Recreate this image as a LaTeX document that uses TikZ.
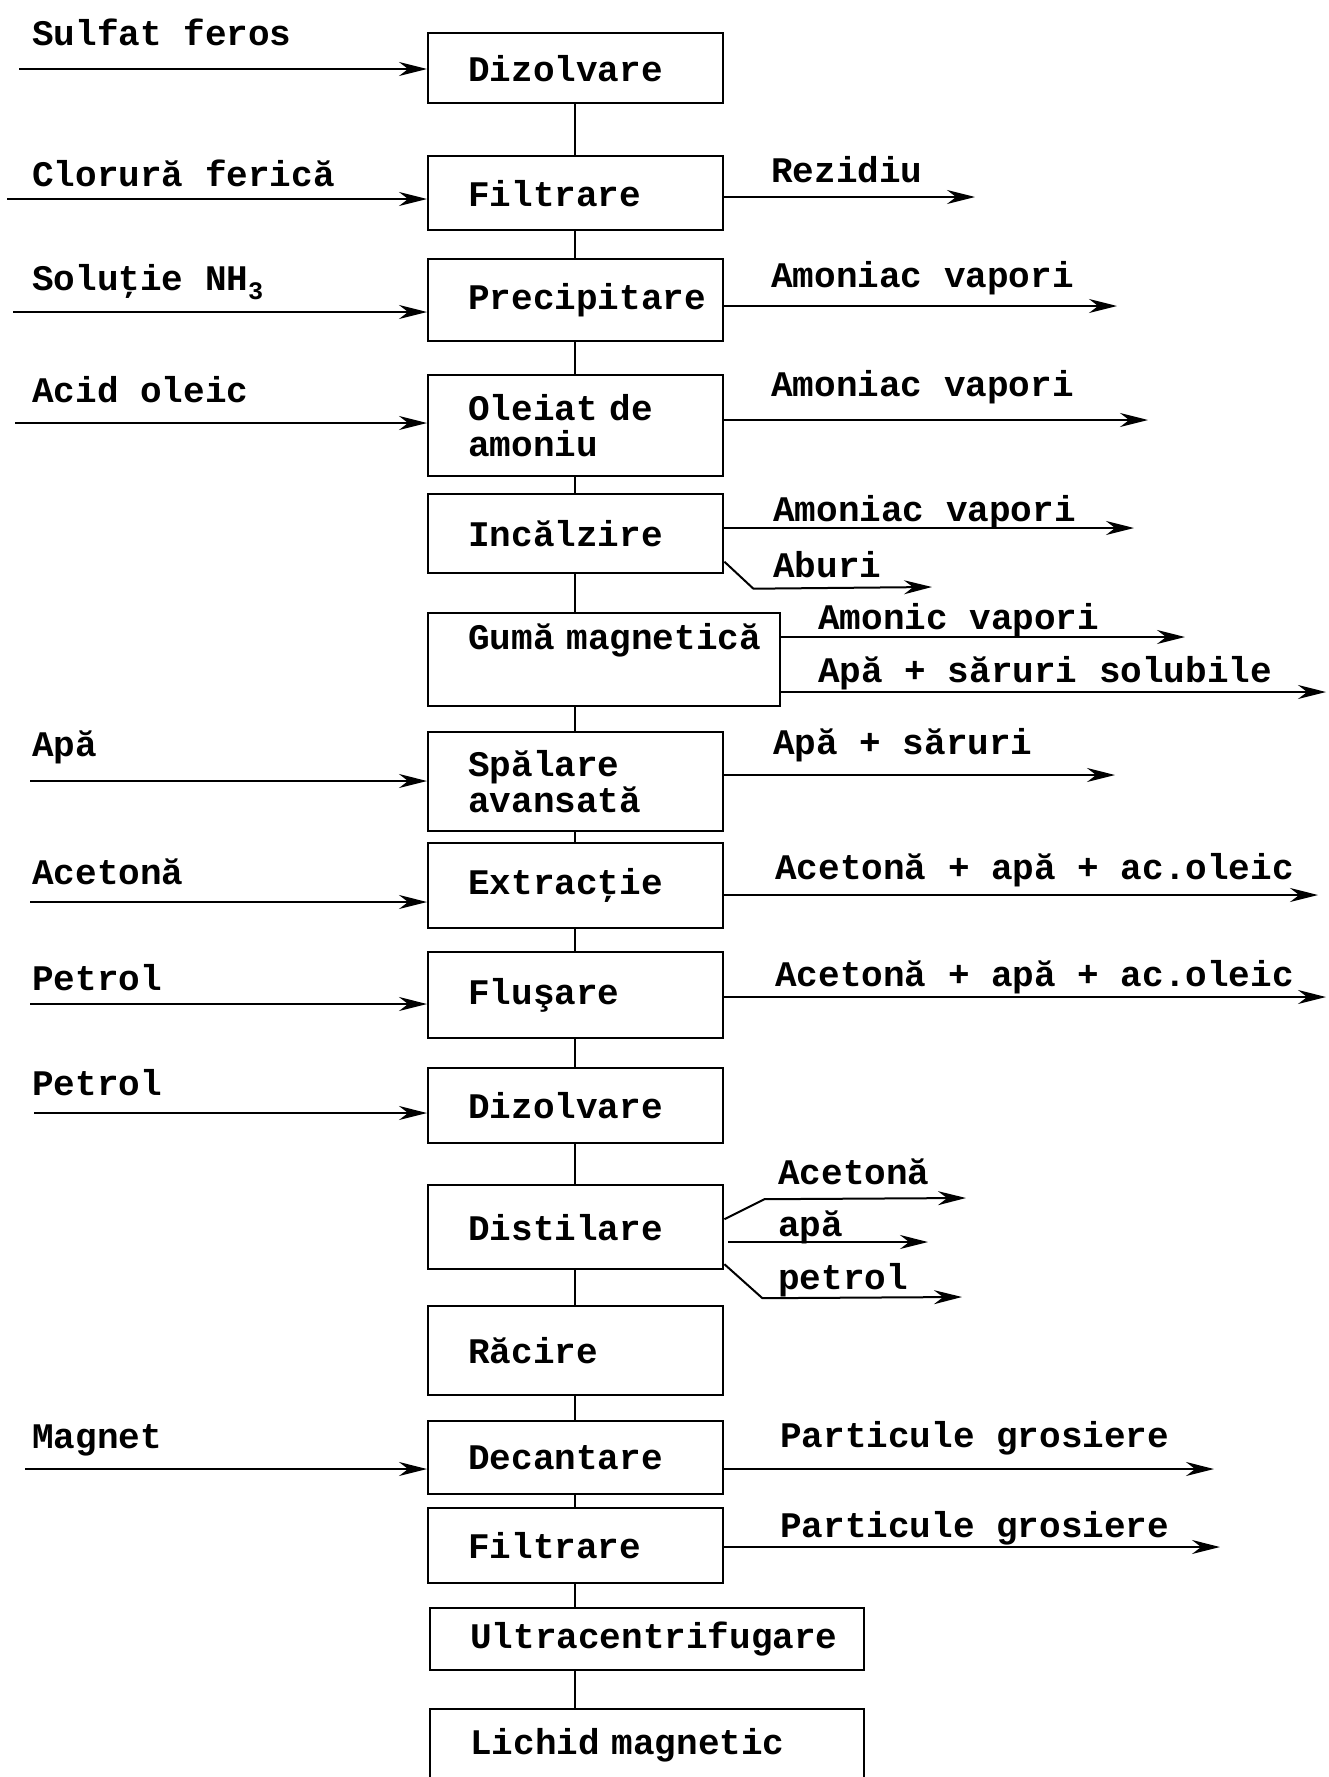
\documentclass[tikz,border=0pt]{standalone}
\usepackage{fontspec}
\setmainfont{Liberation Mono}
\usetikzlibrary{arrows.meta}

\begin{document}
\begin{tikzpicture}[x=1pt,y=-1pt,
  font=\fontsize{36}{36}\selectfont\bfseries,
  procbox/.style={draw,line width=2.4pt,anchor=north west,inner xsep=40pt,inner ysep=0pt,align=left},
  flow/.style={line width=2pt,-{Stealth[length=28pt,width=14pt]}},
  link/.style={line width=1.8pt},
  lab/.style={inner sep=0pt,anchor=west}]
\useasboundingbox (0,0) rectangle (1329,1777);
% process column
\node[procbox,text width=215pt,minimum height=70pt]  (dz1) at (427,32)   {Dizolvare};
\node[procbox,text width=215pt,minimum height=74pt]  (fl1) at (427,155)  {Filtrare};
\node[procbox,text width=215pt,minimum height=82pt]  (pr)  at (427,258)  {Precipitare};
\node[procbox,text width=215pt,minimum height=101pt] (ol)  at (427,374)  {Oleiat de\\amoniu};
\node[procbox,text width=215pt,minimum height=79pt]  (inc) at (427,493)  {Incălzire};
\node[procbox,text width=272pt,minimum height=93pt]  (gm)  at (427,612)  {\mbox{Gumă magnetică}\\[10pt]\mbox{}};
\node[procbox,text width=215pt,minimum height=99pt]  (sp)  at (427,731)  {Spălare\\avansată};
\node[procbox,text width=215pt,minimum height=85pt]  (ex)  at (427,842)  {Extracţie};
\node[procbox,text width=215pt,minimum height=86pt]  (fs)  at (427,951)  {Fluşare};
\node[procbox,text width=215pt,minimum height=75pt]  (dz2) at (427,1067) {Dizolvare};
\node[procbox,text width=215pt,minimum height=84pt]  (ds)  at (427,1184) {Distilare};
\node[procbox,text width=215pt,minimum height=89pt]  (rc)  at (427,1305) {Răcire};
\node[procbox,text width=215pt,minimum height=73pt]  (dc)  at (427,1420) {Decantare};
\node[procbox,text width=215pt,minimum height=75pt]  (fl2) at (427,1507) {Filtrare};
\node[procbox,text width=354pt,minimum height=62pt]  (uc)  at (429,1607) {Ultracentrifugare};
\node[procbox,text width=354pt,minimum height=72pt]  (lm)  at (429,1708) {Lichid magnetic};
\coordinate (axis) at (575,0);
\foreach \a/\b in {dz1/fl1,fl1/pr,pr/ol,ol/inc,inc/gm,gm/sp,sp/ex,ex/fs,fs/dz2,dz2/ds,ds/rc,rc/dc,dc/fl2,fl2/uc,uc/lm}
  \draw[link] (axis |- \a.south) -- (axis |- \b.north);
% inputs
\coordinate (isf) at (19,69);
\draw[flow] (isf) -- (isf -| dz1.west);
\node[lab] (tsf) at (32,32) {Sulfat feros};
\coordinate (icf) at (7,199);
\draw[flow] (icf) -- (icf -| fl1.west);
\node[lab] (tcf) at (32,173) {Clorură ferică};
\coordinate (inh) at (13,312);
\draw[flow] (inh) -- (inh -| pr.west);
\node[lab] (tnh) at (32,282) {Soluţie NH\textsubscript{3}};
\coordinate (iao) at (15,423);
\draw[flow] (iao) -- (iao -| ol.west);
\node[lab] (tao) at (32,390) {Acid oleic};
\coordinate (iap) at (30,781);
\draw[flow] (iap) -- (iap -| sp.west);
\node[lab] (tap) at (32,747) {Apă};
\coordinate (iac) at (30,902);
\draw[flow] (iac) -- (iac -| ex.west);
\node[lab] (tac) at (32,872) {Acetonă};
\coordinate (ip1) at (30,1004);
\draw[flow] (ip1) -- (ip1 -| fs.west);
\node[lab] (tp1) at (32,978) {Petrol};
\coordinate (ip2) at (34,1113);
\draw[flow] (ip2) -- (ip2 -| dz2.west);
\node[lab] (tp2) at (32,1083) {Petrol};
\coordinate (img) at (25,1469);
\draw[flow] (img) -- (img -| dc.west);
\node[lab] (tmg) at (32,1440) {Magnet};
% outputs
\coordinate (orz) at (975,197);
\draw[flow] (orz -| fl1.east) -- (orz);
\node[lab] (trz) at (771,170) {Rezidiu};
\coordinate (oa1) at (1117,306);
\draw[flow] (oa1 -| pr.east) -- (oa1);
\node[lab] (ta1) at (771,278) {Amoniac vapori};
\coordinate (oa2) at (1148,420);
\draw[flow] (oa2 -| ol.east) -- (oa2);
\node[lab] (ta2) at (771,387) {Amoniac vapori};
\coordinate (oa3) at (1134,528);
\draw[flow] (oa3 -| inc.east) -- (oa3);
\node[lab] (ta3) at (773,512) {Amoniac vapori};
\coordinate (oab) at (932,587);
\draw[flow] ([yshift=-28pt]inc.east) -- ++(29,27) -- (oab);
\node[lab] (tab) at (773,565) {Aburi};
\coordinate (oa4) at (1185,637);
\draw[flow] (oa4 -| gm.east) -- (oa4);
\node[lab] (ta4) at (818,620) {Amonic vapori};
\coordinate (osl) at (1326,692);
\draw[flow] (osl -| gm.east) -- (osl);
\node[lab] (tsl) at (818,673) {Apă + săruri solubile};
\coordinate (osr) at (1115,775);
\draw[flow] (osr -| sp.east) -- (osr);
\node[lab] (tsr) at (773,745) {Apă + săruri};
\coordinate (oe1) at (1318,895);
\draw[flow] (oe1 -| ex.east) -- (oe1);
\node[lab] (te1) at (775,870) {Acetonă + apă + ac.oleic};
\coordinate (oe2) at (1326,997);
\draw[flow] (oe2 -| fs.east) -- (oe2);
\node[lab] (te2) at (775,977) {Acetonă + apă + ac.oleic};
\coordinate (oda) at (966,1198);
\draw[flow] ([yshift=8pt]ds.east) -- ++(40,-20) -- (oda);
\node[lab] (tda) at (778,1172) {Acetonă};
\coordinate (odw) at (928,1242);
\draw[flow] ([xshift=4pt]odw -| ds.east) -- (odw);
\node[lab] (tdw) at (778,1227) {apă};
\coordinate (odp) at (962,1297);
\draw[flow] ([yshift=-37pt]ds.east) -- ++(38,34) -- (odp);
\node[lab] (tdp) at (778,1280) {petrol};
\coordinate (og1) at (1214,1469);
\draw[flow] (og1 -| dc.east) -- (og1);
\node[lab] (tg1) at (780,1438) {Particule grosiere};
\coordinate (og2) at (1220,1547);
\draw[flow] (og2 -| fl2.east) -- (og2);
\node[lab] (tg2) at (780,1528) {Particule grosiere};
\end{tikzpicture}
\end{document}
